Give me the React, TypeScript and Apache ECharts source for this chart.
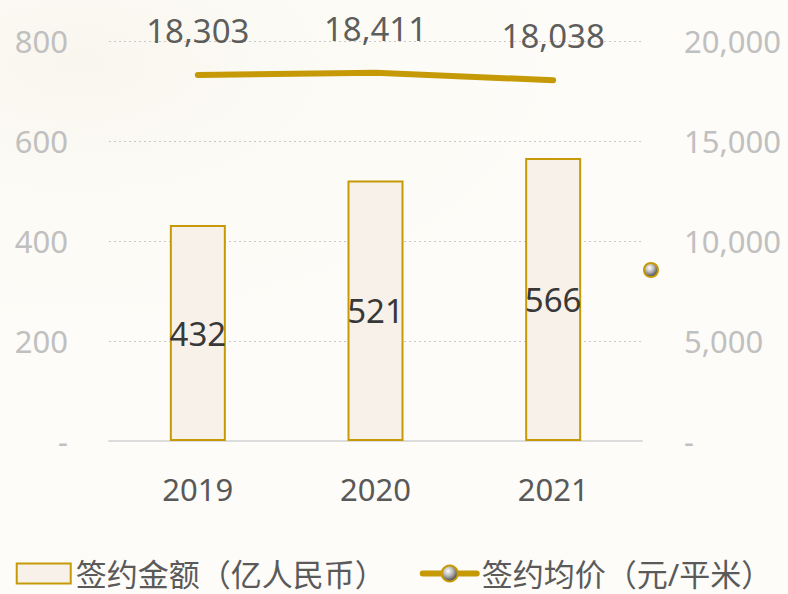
import React, { useEffect, useRef } from "react";
import * as echarts from "echarts";

const categories = ["2019", "2020", "2021"];
const contractAmount = [432, 521, 566];
const avgPrice = [18303, 18411, 18038];
const leftTicks = { min: 0, max: 800, interval: 200 };
const rightTicks = { min: 0, max: 20000, interval: 5000 };
const barName = "签约金额（亿人民币）";
const lineName = "签约均价（元/平米）";

const GOLD = "#c69a06";
const FONT = "'Noto Sans', 'Noto Sans CJK SC', sans-serif";

const sphere = () =>
  new echarts.graphic.RadialGradient(0.4, 0.35, 0.6, [
    { offset: 0, color: "#ffffff" },
    { offset: 0.5, color: "#b8b8b8" },
    { offset: 1, color: "#555555" },
  ]);

export default function App() {
  const ref = useRef<HTMLDivElement>(null);
  useEffect(() => {
    if (!ref.current) return;
    const chart = echarts.init(ref.current, null, { renderer: "svg" });
    const fmt = (v: number) => (v === 0 ? "-" : v.toLocaleString("en-US"));
    chart.setOption({
      animation: false,
      backgroundColor: "#fdfcf8",
      textStyle: { fontFamily: FONT },
      graphic: [
        {
          type: "rect",
          z: -10,
          silent: true,
          shape: { x: 0, y: 0, width: 788, height: 420 },
          style: {
            fill: new echarts.graphic.RadialGradient(0.1, 0.15, 0.7, [
              { offset: 0, color: "rgba(240,235,218,0.35)" },
              { offset: 1, color: "rgba(253,252,248,0)" },
            ]),
          },
        },
        {
          type: "circle",
          shape: { cx: 651, cy: 270, r: 7 },
          style: { fill: sphere(), stroke: GOLD, lineWidth: 2 },
        },
      ],
      grid: { left: 109, right: 146, top: 41, bottom: 153 },
      legend: {
        bottom: 0,
        left: "center",
        itemGap: 34,
        itemWidth: 54,
        itemHeight: 20,
        textStyle: { fontSize: 31, color: "#5a5a5a", fontFamily: FONT },
        data: [
          { name: barName, icon: "rect" },
          { name: lineName, lineStyle: { width: 6, cap: "round", color: GOLD } },
        ],
      },
      xAxis: {
        type: "category",
        data: categories,
        axisLine: { lineStyle: { color: "#dcdcdc", width: 2 } },
        axisTick: { show: false },
        axisLabel: { fontSize: 31, color: "#595959", margin: 32 },
      },
      yAxis: [
        {
          type: "value",
          ...leftTicks,
          axisLine: { show: false },
          axisTick: { show: false },
          axisLabel: { fontSize: 31, color: "#c0c0c0", margin: 41, formatter: fmt },
          splitLine: { lineStyle: { color: "#c8c8c8", type: [2, 3], width: 1 } },
        },
        {
          type: "value",
          ...rightTicks,
          axisLine: { show: false },
          axisTick: { show: false },
          axisLabel: { fontSize: 31, color: "#c0c0c0", margin: 42, formatter: fmt },
          splitLine: { show: false },
        },
      ],
      series: [
        {
          name: barName,
          type: "bar",
          data: contractAmount,
          barWidth: 56,
          itemStyle: { color: "#f8f1ea", borderColor: GOLD, borderWidth: 2 },
          label: {
            show: true,
            position: "inside",
            fontSize: 33,
            color: "#383838",
            fontFamily: FONT,
          },
        },
        {
          name: lineName,
          type: "line",
          yAxisIndex: 1,
          data: avgPrice.map((v) => ({ value: v, symbol: "none" })),
          symbol: "circle",
          symbolSize: 16,
          itemStyle: { color: sphere(), borderColor: GOLD, borderWidth: 2 },
          lineStyle: { color: GOLD, width: 6, cap: "round" },
        },
        {
          name: "labels",
          type: "scatter",
          yAxisIndex: 1,
          data: avgPrice,
          symbolSize: 2,
          itemStyle: { color: "rgba(0,0,0,0)" },
          silent: true,
          label: {
            show: true,
            position: "top",
            distance: 27,
            fontSize: 33,
            color: "#333333",
            fontFamily: FONT,
            formatter: (p: any) => Number(p.value).toLocaleString("en-US"),
          },
        },
      ],
    });
    return () => chart.dispose();
  }, []);
  return <div ref={ref} style={{ width: 788, height: 594, position: "fixed", left: 0, top: 0 }} />;
}
